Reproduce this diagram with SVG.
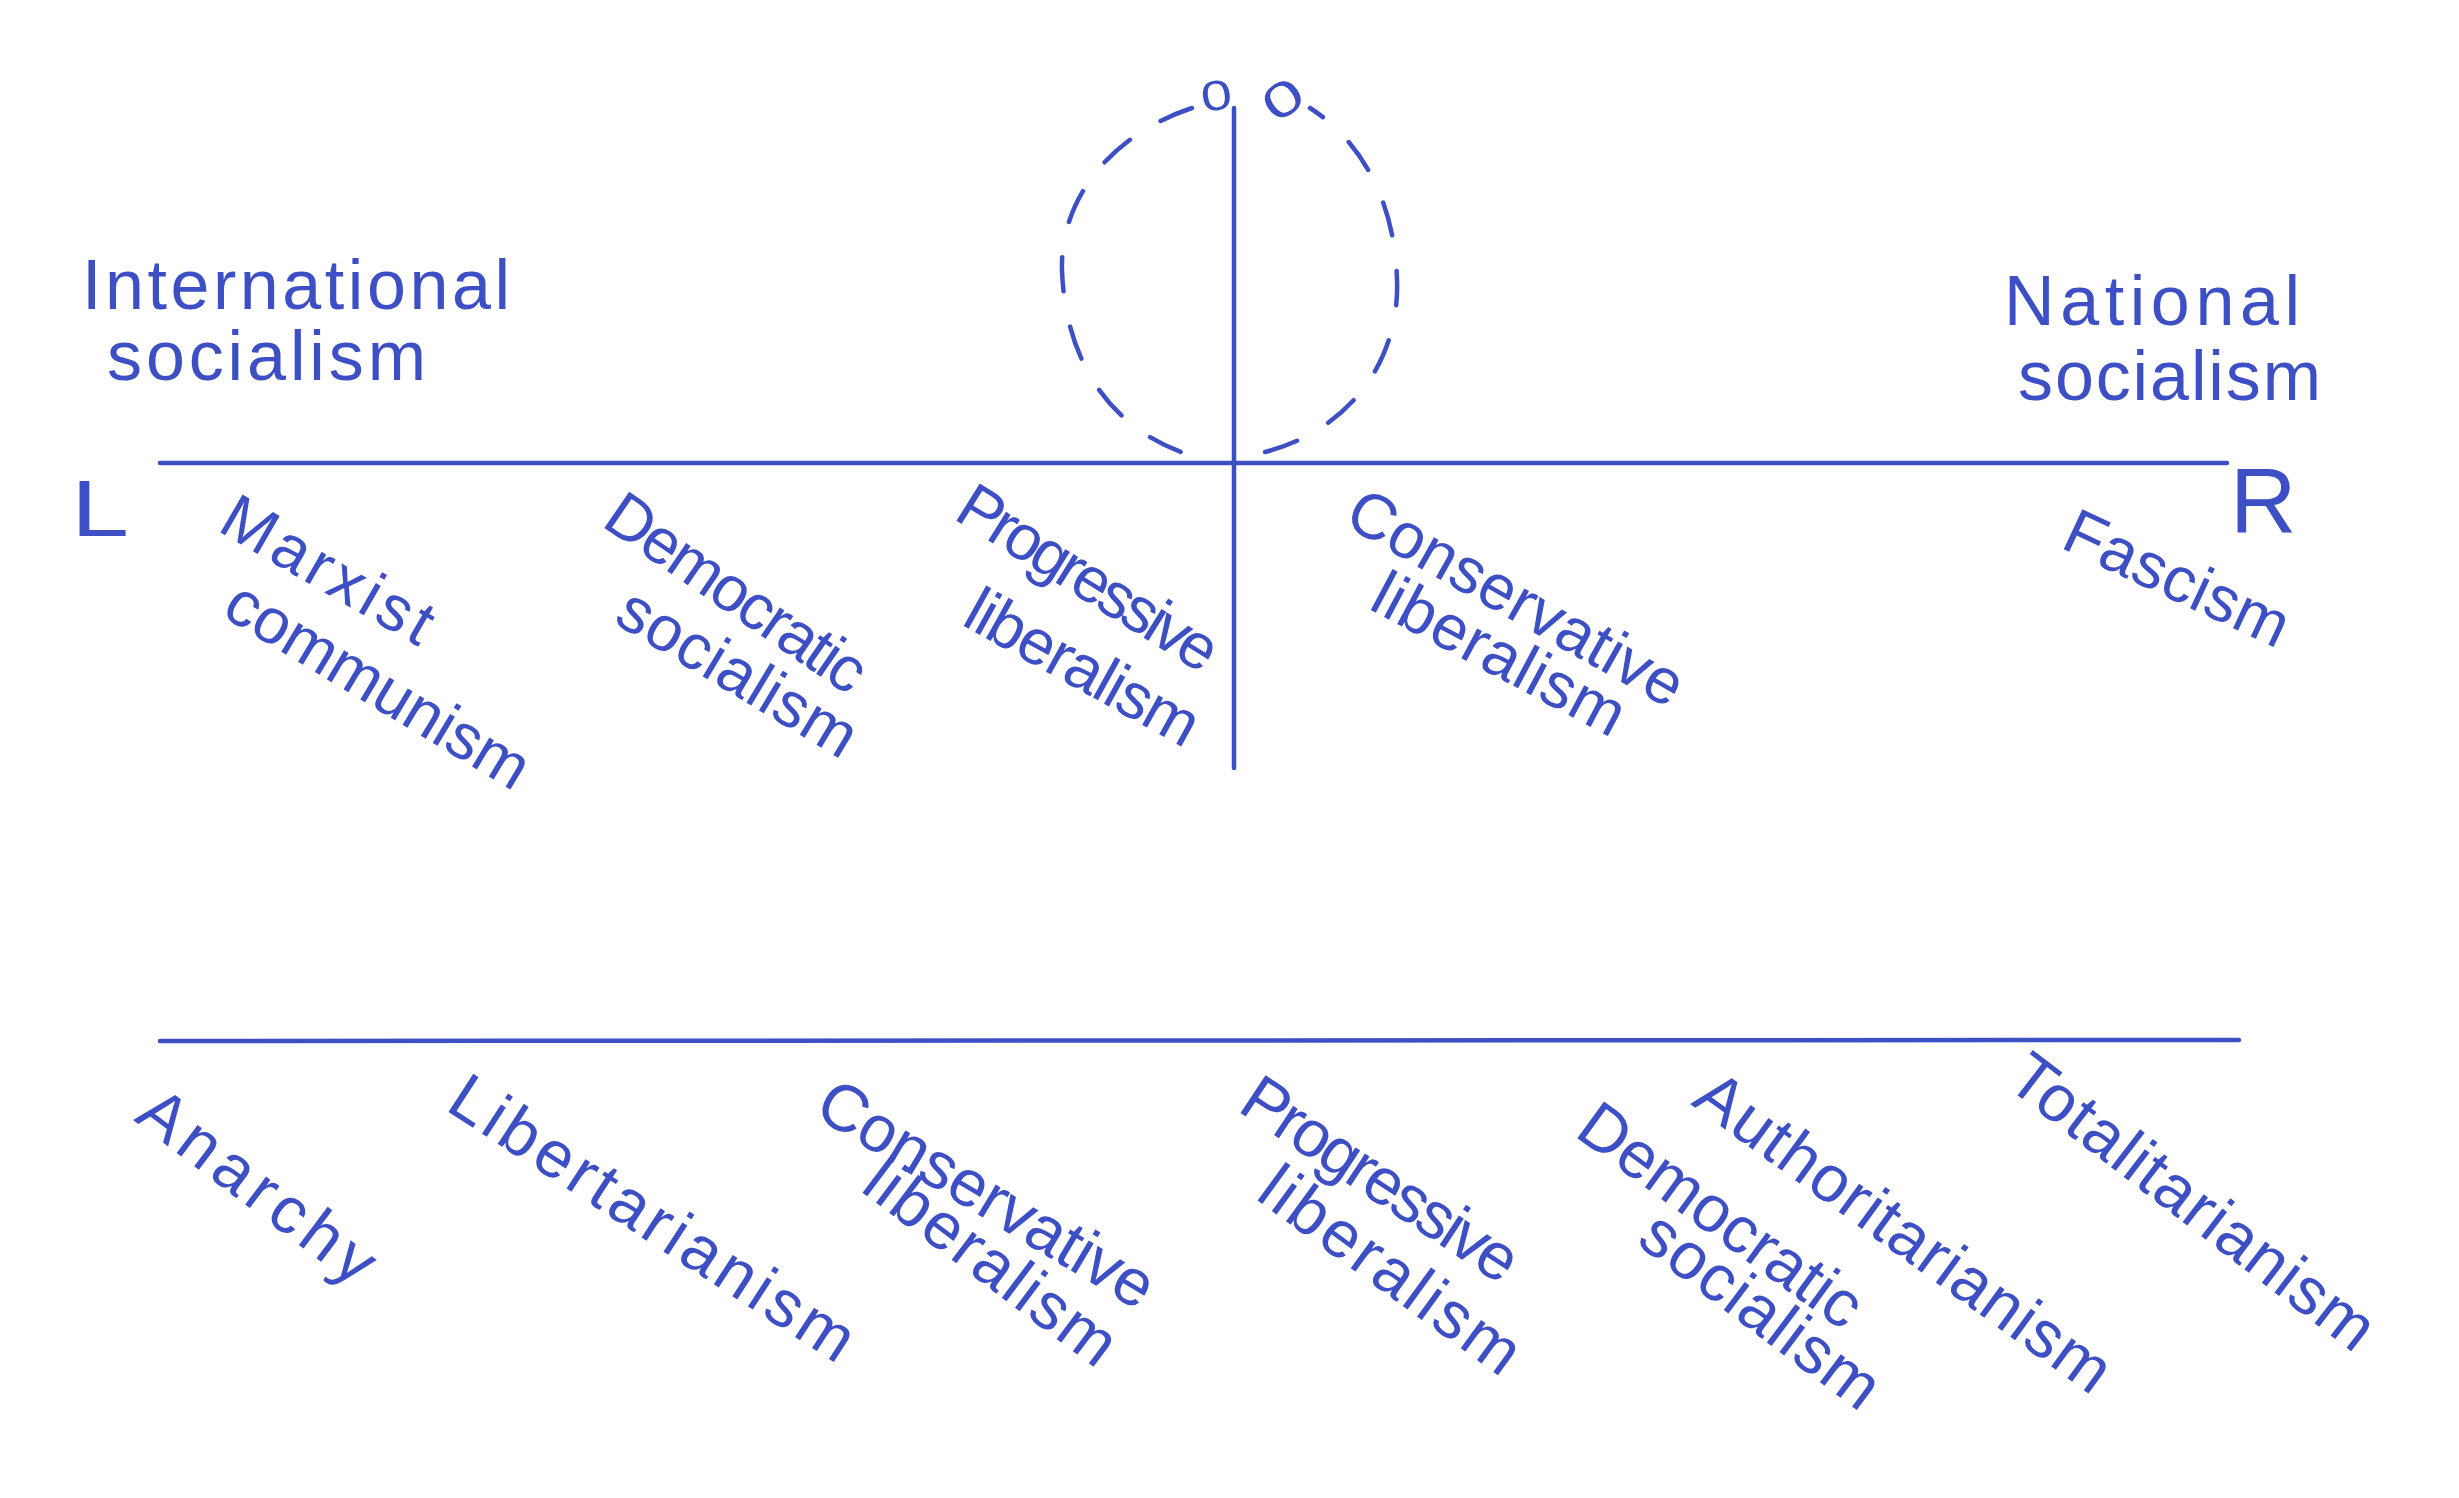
<svg xmlns="http://www.w3.org/2000/svg" width="2459" height="1498" viewBox="0 0 2459 1498">
<style>
.ln{stroke:#3d4fc4;stroke-width:4.5;fill:none;stroke-linecap:round}
.dash{stroke:#3d4fc4;stroke-width:4.5;fill:none;stroke-linecap:round;stroke-dasharray:34 36}
text{font-family:"Liberation Sans",Arial,sans-serif;fill:#3d4fc4}
.t{font-size:64px}
.b{font-size:66px}
.h{font-size:70px}
</style>
<rect width="2459" height="1498" fill="#ffffff"/>
<g id="connectors">
<path class="ln" d="M160,463 L2227,463"/>
<path class="ln" d="M1234,108 L1234,768"/>
<path class="ln" d="M160,1041 L2239,1040"/>
<path class="dash" d="M1192,108 C1110,135 1060,200 1062,270 C1065,360 1110,430 1190,455"/>
<path class="dash" d="M1265,452 C1350,430 1400,360 1397,280 C1395,200 1360,140 1310,108"/>
</g>
<g id="zero-left"><text x="1201" y="110" font-size="42" textLength="31" lengthAdjust="spacingAndGlyphs" transform="rotate(-8 1216 96)">0</text></g>
<g id="zero-right"><text x="1262" y="116" font-size="48" textLength="40" lengthAdjust="spacingAndGlyphs" transform="rotate(-35 1282 98)">0</text></g>
<g id="international-socialism">
<text class="h" x="82" y="309" textLength="428" lengthAdjust="spacing">International</text>
<text class="h" x="107" y="380" textLength="319" lengthAdjust="spacing">socialism</text>
</g>
<g id="national-socialism">
<text class="h" x="2004" y="325" textLength="296" lengthAdjust="spacing">National</text>
<text class="h" x="2018" y="400" textLength="303" lengthAdjust="spacing">socialism</text>
</g>
<g id="L"><text x="71" y="536" font-size="80" textLength="58" lengthAdjust="spacingAndGlyphs">L</text></g>
<g id="R"><text x="2230" y="533" font-size="92">R</text></g>
<g id="marxist-communism">
<text class="t" transform="translate(216,530) rotate(30)" textLength="234" lengthAdjust="spacing">Marxist</text>
<text class="t" transform="translate(220,615) rotate(31)" textLength="343" lengthAdjust="spacing">communism</text>
</g>
<g id="democratic-socialism-top">
<text class="t" transform="translate(600,525) rotate(34.5)" textLength="302" lengthAdjust="spacing">Democratic</text>
<text class="t" transform="translate(612,622) rotate(31)" textLength="268" lengthAdjust="spacing">socialism</text>
</g>
<g id="progressive-liberalism-top">
<text class="t" transform="translate(952,518) rotate(32)" textLength="295" lengthAdjust="spacing">Progressive</text>
<text class="t" transform="translate(960,624) rotate(29)" textLength="257" lengthAdjust="spacing">liberalism</text>
</g>
<g id="conservative-liberalism-top">
<text class="t" transform="translate(1342,524) rotate(29.5)" textLength="376" lengthAdjust="spacing">Conservative</text>
<text class="t" transform="translate(1367,608) rotate(28)" textLength="277" lengthAdjust="spacing">liberalism</text>
</g>
<g id="fascism">
<text class="t" transform="translate(2059,547) rotate(25)" textLength="241" lengthAdjust="spacing">Fascism</text>
</g>
<g id="anarchy">
<text class="b" transform="translate(133,1120) rotate(37)" textLength="279" lengthAdjust="spacing">Anarchy</text>
</g>
<g id="libertarianism">
<text class="b" transform="translate(444,1109) rotate(33)" textLength="469" lengthAdjust="spacing">Libertarianism</text>
</g>
<g id="conservative-liberalism-bottom">
<text class="b" transform="translate(812,1115) rotate(31)" textLength="381" lengthAdjust="spacing">Conservative</text>
<text class="b" transform="translate(859,1190) rotate(37)" textLength="298" lengthAdjust="spacing">liberalism</text>
</g>
<g id="progressive-liberalism-bottom">
<text class="b" transform="translate(1236,1110) rotate(33.5)" textLength="318" lengthAdjust="spacing">Progressive</text>
<text class="b" transform="translate(1254,1198) rotate(36)" textLength="306" lengthAdjust="spacing">liberalism</text>
</g>
<g id="democratic-socialism-bottom">
<text class="b" transform="translate(1573,1135) rotate(36)" textLength="334" lengthAdjust="spacing">Democratic</text>
<text class="b" transform="translate(1635,1243) rotate(37)" textLength="282" lengthAdjust="spacing">socialism</text>
</g>
<g id="authoritarianism">
<text class="b" transform="translate(1690,1104) rotate(36)" textLength="497" lengthAdjust="spacing">Authoritarianism</text>
</g>
<g id="totalitarianism">
<text class="b" transform="translate(2004,1085) rotate(37.5)" textLength="442" lengthAdjust="spacing">Totalitarianism</text>
</g>
</svg>
